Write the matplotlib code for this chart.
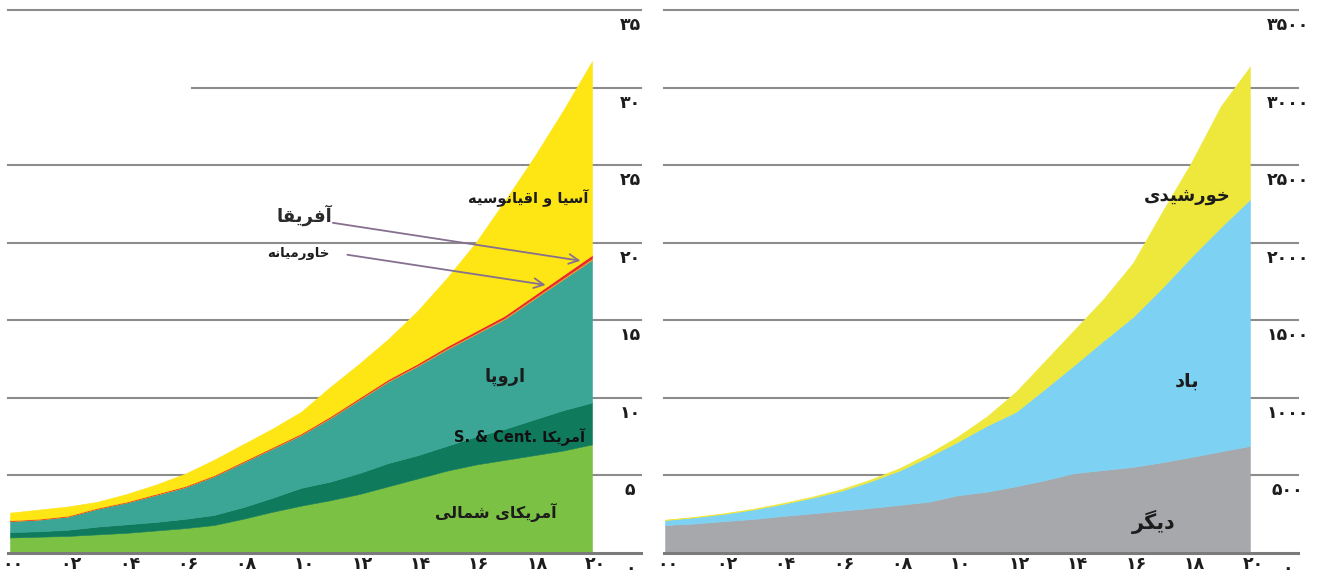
import numpy as np
import matplotlib
matplotlib.use("Agg")
import matplotlib.pyplot as plt

plt.rcParams['font.family'] = ['DejaVu Sans']

# ---- data -------------------------------------------------------------
years = np.arange(2000, 2021)

# installed capacity by region (left chart)
north_america = [1.0, 1.05, 1.1, 1.2, 1.3, 1.45, 1.6, 1.8, 2.2, 2.65, 3.05,
                 3.4, 3.8, 4.3, 4.8, 5.3, 5.7, 6.0, 6.3, 6.6, 7.0]
south_central_america = [0.35, 0.35, 0.4, 0.5, 0.55, 0.55, 0.6, 0.65, 0.75, 0.9, 1.15,
                         1.2, 1.35, 1.5, 1.5, 1.6, 1.8, 2.0, 2.3, 2.6, 2.7]
europe = [0.70, 0.75, 0.85, 1.15, 1.40, 1.73, 2.03, 2.48, 2.87, 3.16, 3.40,
          4.08, 4.72, 5.25, 5.74, 6.21, 6.60, 7.08, 7.76, 8.43, 9.20]
middle_east = [0.02, 0.02, 0.02, 0.02, 0.02, 0.03, 0.03, 0.03, 0.03, 0.04, 0.04,
               0.05, 0.05, 0.06, 0.06, 0.07, 0.07, 0.08, 0.08, 0.09, 0.10]
africa = [0.03, 0.03, 0.03, 0.03, 0.03, 0.04, 0.04, 0.04, 0.05, 0.05, 0.06,
          0.07, 0.08, 0.09, 0.10, 0.12, 0.13, 0.14, 0.16, 0.18, 0.20]
asia_oceania = [0.5, 0.6, 0.6, 0.4, 0.5, 0.6, 0.8, 1.0, 1.1, 1.2, 1.4,
                1.9, 2.2, 2.6, 3.4, 4.4, 5.7, 7.4, 8.9, 10.6, 12.5]

# capacity by source (right chart)
other = [180, 190, 205, 219, 238, 255, 272, 290, 310, 330, 372,
         395, 430, 470, 515, 535, 555, 585, 619, 655, 690]
wind = [32, 40, 47, 61, 77, 100, 128, 170, 220, 289, 344,
        425, 480, 590, 698, 835, 967, 1125, 1291, 1445, 1590]
solar = [3, 3, 4, 5, 6, 7, 10, 12, 16, 21, 34,
         60, 130, 180, 227, 270, 348, 490, 610, 780, 855]

left_ticks = np.arange(0, 36, 5)
right_ticks = np.arange(0, 3501, 500)
year_ticks = np.arange(2000, 2021, 2)

# ---- Persian text helpers ----------------------------------------------
FA_DIGITS = str.maketrans('0123456789', '۰۱۲۳۴۵۶۷۸۹')

# isolated, final, initial, medial presentation forms
FORMS = {
    'ا': ('\uFE8D', '\uFE8E', None, None),
    'آ': ('\uFE81', '\uFE82', None, None),
    'د': ('\uFEA9', '\uFEAA', None, None),
    'ر': ('\uFEAD', '\uFEAE', None, None),
    'و': ('\uFEED', '\uFEEE', None, None),
    'ب': ('\uFE8F', '\uFE90', '\uFE91', '\uFE92'),
    'پ': ('\uFB56', '\uFB57', '\uFB58', '\uFB59'),
    'خ': ('\uFEA5', '\uFEA6', '\uFEA7', '\uFEA8'),
    'س': ('\uFEB1', '\uFEB2', '\uFEB3', '\uFEB4'),
    'ش': ('\uFEB5', '\uFEB6', '\uFEB7', '\uFEB8'),
    'ف': ('\uFED1', '\uFED2', '\uFED3', '\uFED4'),
    'ق': ('\uFED5', '\uFED6', '\uFED7', '\uFED8'),
    'ک': ('\uFB8E', '\uFB8F', '\uFB90', '\uFB91'),
    'گ': ('\uFB92', '\uFB93', '\uFB94', '\uFB95'),
    'ل': ('\uFEDD', '\uFEDE', '\uFEDF', '\uFEE0'),
    'م': ('\uFEE1', '\uFEE2', '\uFEE3', '\uFEE4'),
    'ن': ('\uFEE5', '\uFEE6', '\uFEE7', '\uFEE8'),
    'ه': ('\uFEE9', '\uFEEA', '\uFEEB', '\uFEEC'),
    'ی': ('\uFBFC', '\uFBFD', '\uFBFE', '\uFBFF'),
}


def rtl(text):
    """Shape Persian letters and return them in visual (left-to-right) order."""
    out = []
    for i, ch in enumerate(text):
        if ch not in FORMS:
            out.append(ch)
            continue
        prev = text[i - 1] if i > 0 else ''
        nxt = text[i + 1] if i + 1 < len(text) else ''
        iso, fin, ini, med = FORMS[ch]
        to_prev = prev in FORMS and FORMS[prev][2] is not None
        to_next = ini is not None and nxt in FORMS
        if to_prev and to_next:
            out.append(med)
        elif to_prev:
            out.append(fin)
        elif to_next:
            out.append(ini)
        else:
            out.append(iso)
    return ''.join(reversed(out))


def fa(n):
    return str(n).translate(FA_DIGITS)


# ---- figure ------------------------------------------------------------
W, H = 1333, 581
fig = plt.figure(figsize=(W / 100, H / 100), dpi=100)

GRID = '#8c8c8c'
BASE = '#7b7b7b'
TXT = '#1c1c1c'


def make_axes(px_left, px_right, x0, x1, ymax):
    ax = fig.add_axes([px_left / W, (H - 553) / H, (px_right - px_left) / W, 543 / H])
    ax.set_xlim(x0, x1)
    ax.set_ylim(0, ymax)
    ax.axis('off')
    return ax


def decorate(ax, ticks, label_x, skip_left=None):
    for t in ticks[1:]:
        xmin = skip_left if (skip_left and t == ticks[-2]) else 0
        ax.axhline(t, xmin=xmin, color=GRID, lw=1.5, zorder=0, clip_on=False)
    ax.axhline(0, color=BASE, lw=2.2, zorder=5, clip_on=False)
    for t in ticks:
        ax.annotate(fa(t), xy=(label_x, t), xycoords=('axes fraction', 'data'),
                    xytext=(0, -15), textcoords='offset pixels',
                    ha='center', va='center', fontsize=12.5, fontweight='bold',
                    color=TXT, annotation_clip=False)
    for yr in year_ticks:
        ax.annotate(fa(yr % 100).rjust(2, '۰'), xy=(yr, 0),
                    xycoords=('data', 'axes fraction'),
                    xytext=(3, -11), textcoords='offset pixels',
                    ha='center', va='center', fontsize=12.5, fontweight='bold',
                    color=TXT, annotation_clip=False)


# left: capacity by region
ax1 = make_axes(8, 641, 2000 - 2 / 29.1, 2000 + 631 / 29.1, 35)
decorate(ax1, left_ticks, 0.983, skip_left=0.29)
ax1.stackplot(years, north_america, south_central_america, europe,
              middle_east, africa, asia_oceania,
              colors=['#7bc144', '#107a5c', '#3ba596', '#f39a2a', '#e8262b', '#fee514'],
              lw=0.4, edgecolor='face', zorder=2)

red_top = (np.array(north_america) + south_central_america + europe
           + middle_east + africa)
for x_from, x_to, dy in [(2011.0, 2019.7, 2.5), (2011.5, 2018.5, 2.0)]:
    y_to = np.interp(x_to, years, red_top)
    ax1.annotate('', xy=(x_to, y_to), xytext=(x_from, y_to + dy),
                 arrowprops=dict(arrowstyle='->,head_length=0.7,head_width=0.35',
                                 color='#86708f', lw=1.3), zorder=6)

ax1.text(2017.8, 22.9, rtl('آسیا و اقیانوسیه'), ha='center', va='center',
         fontsize=10.5, fontweight='bold', color=TXT)
ax1.text(2010.1, 21.8, rtl('آفریقا'), ha='center', va='center',
         fontsize=13, fontweight='bold', color='#2a2a2a')
ax1.text(2009.9, 19.3, rtl('خاورمیانه'), ha='center', va='center',
         fontsize=9.5, fontweight='bold', color=TXT)
ax1.text(2017.0, 11.35, rtl('اروپا'), ha='center', va='center',
         fontsize=13, fontweight='bold', color=TXT)
ax1.text(2017.5, 7.48, 'S. & Cent. ' + rtl('آمریکا'), ha='center', va='center',
         fontsize=10.5, fontweight='bold', color='#111111')
ax1.text(2016.7, 2.64, rtl('آمریکای شمالی'), ha='center', va='center',
         fontsize=11.5, fontweight='bold', color=TXT)

# right: capacity by source
ax2 = make_axes(664, 1298, 2000 - 1 / 29.25, 2000 + 633 / 29.25, 3500)
decorate(ax2, right_ticks, 0.984)
ax2.stackplot(years, other, wind, solar,
              colors=['#a7a8ab', '#7dd2f4', '#efe83c'],
              lw=0.4, edgecolor='face', zorder=2)

ax2.text(2017.85, 2300, rtl('خورشیدی'), ha='center', va='center',
         fontsize=13, fontweight='bold', color=TXT)
ax2.text(2017.85, 1110, rtl('باد'), ha='center', va='center',
         fontsize=14, fontweight='bold', color=TXT)
ax2.text(2016.7, 200, rtl('دیگر'), ha='center', va='center',
         fontsize=15, fontweight='bold', color=TXT)

fig.savefig('out.png', dpi=100)
